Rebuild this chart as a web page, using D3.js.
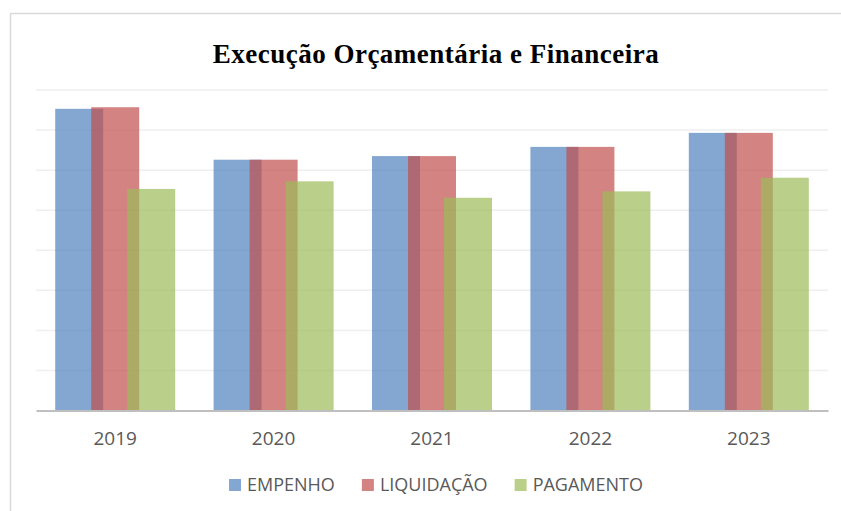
<!DOCTYPE html>
<html><head>
<meta charset="UTF-8">
<title>Execução Orçamentária e Financeira</title>
<script src="https://cdn.jsdelivr.net/npm/d3@7"></script>
<style>
  body { margin: 0; background: #fff; }
  svg { display: block; }
</style>
</head>
<body>
<div id="chart"></div>
<script>
// data (relative units, one unit = one gridline step; the axis has no labels)
const anos = ['2019', '2020', '2021', '2022', '2023'];
const series = ['EMPENHO', 'LIQUIDAÇÃO', 'PAGAMENTO'];
const empenho = [7.53, 6.26, 6.35, 6.58, 6.93];
const liquidacao = [7.57, 6.26, 6.35, 6.58, 6.93];
const pagamento = [5.53, 5.72, 5.31, 5.47, 5.81];
const cores = ['#4f81bd', '#c0504d', '#9bbb59'];

const W = 841, H = 511;
const plot = {left: 36, right: 828, top: 90, bottom: 410.5};

const svg = d3.select('#chart').append('svg')
  .attr('width', W).attr('height', H);

// outer chart frame
svg.append('rect')
  .attr('x', 10.5).attr('y', 13.5)
  .attr('width', 900).attr('height', 600)
  .attr('fill', '#fff').attr('stroke', '#d9d9d9').attr('stroke-width', 1.5);

svg.append('text')
  .attr('x', 436).attr('y', 63)
  .attr('text-anchor', 'middle')
  .style('font-family', '"Liberation Serif", "Times New Roman", serif')
  .style('font-weight', 'bold')
  .style('font-size', '27px')
  .style('letter-spacing', '0.5px')
  .attr('fill', '#000')
  .text('Execução Orçamentária e Financeira');

// excel style: gap width 80%, overlap 25%
const gap = 0.8, overlap = 0.25;
const x = d3.scaleBand()
  .domain(anos)
  .range([plot.left, plot.right])
  .paddingInner(gap / (gap + 1 + (series.length - 1) * (1 - overlap)))
  .paddingOuter(gap / (gap + 1 + (series.length - 1) * (1 - overlap)) / 2);
const barW = x.bandwidth() / (1 + (series.length - 1) * (1 - overlap));

const y = d3.scaleLinear().domain([0, 8]).range([plot.bottom, plot.top]);

// gridlines
svg.append('g')
  .selectAll('line')
  .data(y.ticks(8).filter(d => d > 0))
  .join('line')
  .attr('x1', plot.left).attr('x2', plot.right)
  .attr('y1', d => y(d)).attr('y2', d => y(d))
  .attr('stroke', '#efefef').attr('stroke-width', 1.5);

const valores = [empenho, liquidacao, pagamento];
valores.forEach((vals, s) => {
  svg.append('g')
    .selectAll('rect')
    .data(vals)
    .join('rect')
    .attr('x', (d, i) => x(anos[i]) + s * barW * (1 - overlap))
    .attr('y', d => y(d))
    .attr('width', barW)
    .attr('height', d => y(0) - y(d))
    .attr('fill', cores[s])
    .attr('fill-opacity', 0.7);
});

// category axis
const xAxis = svg.append('g')
  .attr('transform', `translate(0,${plot.bottom})`)
  .call(d3.axisBottom(x).tickSize(0).tickPadding(21));
xAxis.select('.domain').attr('stroke', '#bfbfbf').attr('stroke-width', 2);
xAxis.selectAll('text')
  .style('font-family', '"Open Sans", sans-serif')
  .style('font-size', '19px')
  .attr('fill', '#595959');

// legend
const leg = svg.append('g').attr('transform', 'translate(0,485)');
const itens = leg.selectAll('g').data(series).join('g');
itens.append('rect')
  .attr('y', -6).attr('width', 12).attr('height', 12)
  .attr('fill', (d, i) => cores[i]).attr('fill-opacity', 0.7);
itens.append('text')
  .attr('x', 18).attr('dy', '0.36em')
  .style('font-family', '"Open Sans", sans-serif')
  .style('font-size', '18px')
  .attr('fill', '#595959')
  .text(d => d);
let pos = 0;
const larguras = [];
itens.each(function() {
  const w = 18 + this.querySelector('text').getComputedTextLength();
  larguras.push(pos);
  pos += w + 27;
});
const total = pos - 27;
const inicio = 436 - total / 2;
itens.attr('transform', (d, i) => `translate(${inicio + larguras[i]},0)`);
</script>
</body>
</html>
